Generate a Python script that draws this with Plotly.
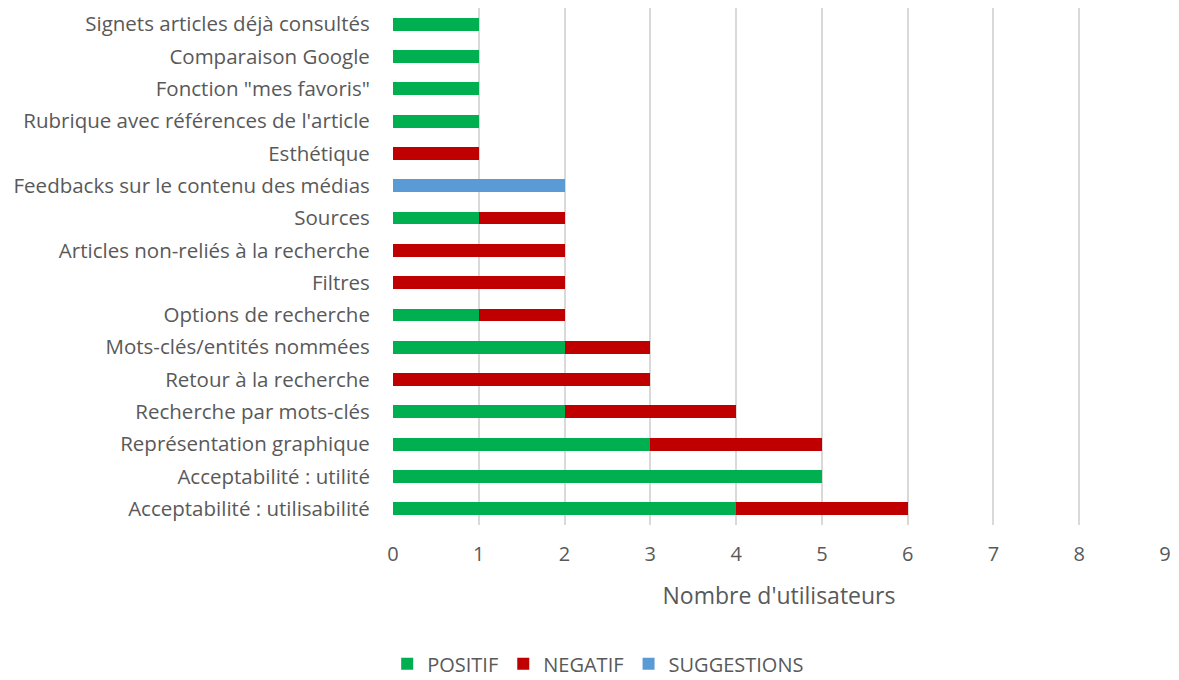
import plotly.graph_objects as go

categories = [
    "Acceptabilité : utilisabilité",
    "Acceptabilité : utilité",
    "Représentation graphique",
    "Recherche par mots-clés",
    "Retour à la recherche",
    "Mots-clés/entités nommées",
    "Options de recherche",
    "Filtres",
    "Articles non-reliés à la recherche",
    "Sources",
    "Feedbacks sur le contenu des médias",
    "Esthétique",
    "Rubrique avec références de l'article",
    "Fonction \"mes favoris\"",
    "Comparaison Google",
    "Signets articles déjà consultés",
]
positif = [4, 5, 3, 2, 0, 2, 1, 0, 0, 1, 0, 0, 1, 1, 1, 1]
negatif = [2, 0, 2, 2, 3, 1, 1, 2, 2, 1, 0, 1, 0, 0, 0, 0]
suggestions = [0, 0, 0, 0, 0, 0, 0, 0, 0, 0, 2, 0, 0, 0, 0, 0]
x_ticks = list(range(0, 10))

FONT = "Open Sans"
GREY = "#595959"

fig = go.Figure()
for name, vals, color in [
    ("POSITIF", positif, "#00B050"),
    ("NEGATIF", negatif, "#C00000"),
    ("SUGGESTIONS", suggestions, "#5B9BD5"),
]:
    fig.add_trace(go.Bar(
        y=categories, x=vals, name=name, orientation="h",
        marker=dict(color=color, line=dict(width=0)),
        width=0.4,
    ))

# page body adds an 8px margin, so the figure is sized/offset to compensate
fig.update_layout(
    barmode="stack",
    width=1171, height=672,
    margin=dict(l=385, r=14, t=0, b=155, autoexpand=False),
    paper_bgcolor="white", plot_bgcolor="white",
    font=dict(family=FONT, size=20, color=GREY),
    showlegend=True,
    legend=dict(
        orientation="h", xref="container", yref="container",
        x=0.504, xanchor="center", y=0.024, yanchor="middle",
        font=dict(family=FONT, size=20, color=GREY),
        itemwidth=30, traceorder="normal",
    ),
    xaxis=dict(
        range=[0, 9], tickvals=x_ticks, ticktext=[str(v) for v in x_ticks],
        showgrid=True, gridcolor="#D9D9D9", gridwidth=1.5,
        zeroline=False, showline=False, automargin=False,
        ticks="outside", ticklen=11, tickcolor="rgba(0,0,0,0)",
        tickfont=dict(family=FONT, size=20, color=GREY),
        title=dict(text="Nombre d'utilisateurs", standoff=21,
                   font=dict(family=FONT, size=23, color=GREY)),
    ),
    yaxis=dict(
        categoryorder="array", categoryarray=categories,
        showgrid=False, zeroline=False, showline=False, automargin=False,
        ticks="outside", ticklen=18, tickcolor="rgba(0,0,0,0)",
        tickfont=dict(family=FONT, size=20.5, color=GREY),
        range=[-0.5, 15.5],
    ),
)

fig.write_html("out.html")
